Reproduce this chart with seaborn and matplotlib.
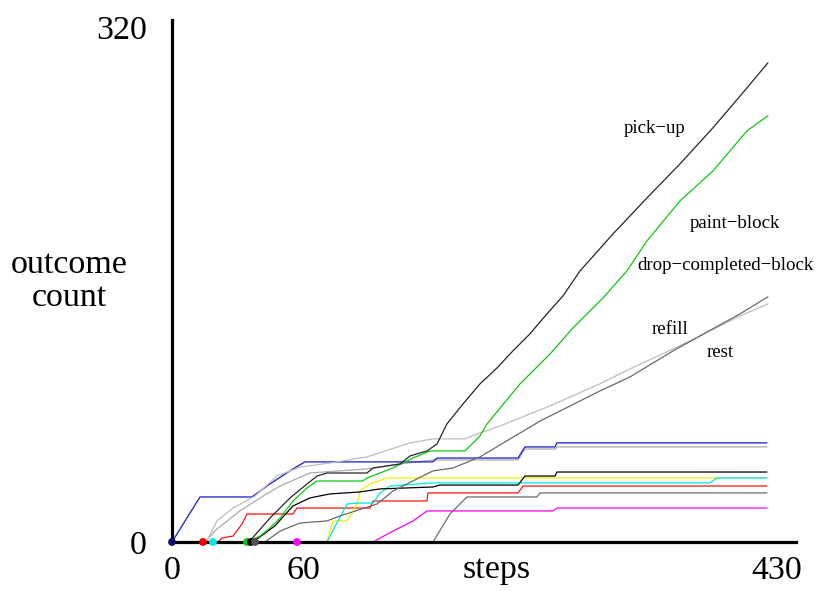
import matplotlib
matplotlib.use("Agg")
import matplotlib.pyplot as plt
import seaborn as sns
import pandas as pd

sns.set_style("white")
plt.rcParams['font.family'] = ['Liberation Serif', 'DejaVu Serif']
plt.rcParams['text.color'] = 'black'
plt.rcParams['xtick.color'] = 'black'
plt.rcParams['ytick.color'] = 'black'
plt.rcParams['axes.labelcolor'] = 'black'

# ---- data (steps, cumulative outcome count) ----
blue_x = [0, 20.2, 57.8, 70.8, 87.4, 96.1, 188.6, 191.5, 250.1, 255.1, 276.8, 278.2, 430]
blue_y = [0, 28.0, 28.0, 36.1, 45.4, 49.8, 49.8, 52.2, 52.2, 59.1, 59.1, 61.6, 61.6]

lgray_x = [23.8, 32.5, 49.1, 63.6, 78.1, 99.7, 140.9, 164.8, 188.6, 250.1, 255.1, 276.8, 278.2, 430]
lgray_y = [0, 8.1, 19.3, 27.4, 34.8, 42.9, 45.4, 48.5, 51.0, 51.0, 57.8, 57.8, 59.1, 59.1]

yellow_x = [0, 112.0, 116.4, 126.5, 133.7, 135.9, 143.1, 155.4, 430]
yellow_y = [0, 0, 13.1, 13.1, 23.6, 31.7, 36.1, 39.8, 39.8]

cyan_x = [29.6, 112.0, 126.5, 133.7, 145.3, 150.3, 157.5, 188.6, 388.8, 393.9, 430]
cyan_y = [0, 0, 23.6, 24.2, 24.2, 30.5, 34.8, 36.7, 36.7, 39.8, 39.8]

red_x = [22.4, 33.2, 36.1, 44.1, 50.6, 54.2, 87.4, 90.3, 143.1, 145.3, 184.3, 185.0, 250.1, 253.7, 430]
red_y = [0, 0, 2.5, 3.7, 11.2, 17.4, 17.4, 21.1, 21.1, 25.5, 25.5, 30.5, 30.5, 34.8, 34.8]

black2_x = [58.5, 74.4, 87.4, 99.7, 114.2, 135.9, 150.3, 188.6, 193.7, 250.1, 255.1, 276.8, 278.2, 430]
black2_y = [0, 10.0, 22.4, 27.4, 29.9, 31.1, 33.0, 34.2, 35.4, 35.4, 41.0, 41.0, 43.5, 43.5]

dgray_x = [0, 188.6, 200.9, 213.2, 263.8, 266.0, 430]
dgray_y = [0, 0, 17.4, 28.0, 28.0, 30.5, 30.5]

magenta_x = [90.3, 145.3, 159.7, 174.2, 184.3, 275.4, 278.2, 430]
magenta_y = [0, 0, 6.8, 13.1, 19.3, 19.3, 21.1, 21.1]

rest_x = [25.0, 32.5, 44.1, 60.0, 75.9, 92.5, 114.2, 140.9, 172.0, 188.6, 211.8, 222.6,
          237.0, 273.2, 309.3, 331.0, 362.1, 381.6, 410.5, 430.7]
rest_y = [0, 13.1, 21.1, 28.6, 41.0, 46.6, 49.1, 52.9, 61.6, 64.1, 64.1, 67.8,
          72.1, 84.6, 98.3, 107.6, 120.0, 128.1, 140.5, 148.0]

refill_x = [67.2, 78.1, 92.5, 112.0, 121.4, 148.2, 159.7, 188.6, 203.1, 222.6, 266.0,
            309.3, 331.0, 362.1, 381.6, 410.5, 430.7]
refill_y = [0, 6.8, 11.8, 13.1, 16.2, 23.6, 31.7, 44.2, 46.0, 52.9, 75.2,
            93.9, 102.6, 118.8, 128.1, 141.8, 152.4]

paint_x = [54.2, 63.6, 70.8, 78.1, 87.4, 97.6, 104.8, 138.0, 140.9, 159.7, 174.2, 186.5,
           211.8, 222.6, 227.7, 251.5, 273.2, 289.8, 311.5, 328.8, 343.3, 367.2, 391.0,
           415.6, 430.7]
paint_y = [0, 3.7, 8.7, 14.9, 25.5, 33.6, 37.9, 37.9, 39.8, 46.0, 52.2, 56.6,
           56.6, 65.9, 73.4, 98.3, 116.9, 133.1, 151.7, 168.5, 187.2, 212.1, 230.7,
           255.6, 264.9]

pick_x = [55.6, 70.8, 85.3, 97.6, 104.8, 112.0, 140.9, 145.3, 164.8, 172.0, 184.3, 191.5,
          198.7, 210.3, 222.6, 234.9, 246.4, 258.7, 271.0, 282.6, 294.9, 318.7, 343.3,
          367.2, 391.0, 415.6, 430.7]
pick_y = [0, 14.9, 27.4, 36.1, 41.0, 42.9, 42.9, 46.0, 48.5, 53.5, 56.6, 60.9,
          73.4, 85.8, 98.3, 108.2, 118.8, 129.4, 141.8, 153.0, 168.5, 191.5, 213.9,
          235.1, 257.5, 282.3, 297.9]

series = [
    ("lgray", lgray_x, lgray_y, "#aaaaaa"),
    ("dgray", dgray_x, dgray_y, "#6e6e6e"),
    ("magenta", magenta_x, magenta_y, "#ff00ff"),
    ("red", red_x, red_y, "#ff1010"),
    ("yellow", yellow_x, yellow_y, "#f0f000"),
    ("cyan", cyan_x, cyan_y, "#00e8e8"),
    ("black2", black2_x, black2_y, "#000000"),
    ("blue", blue_x, blue_y, "#1818c8"),
    ("rest", rest_x, rest_y, "#bdbdbd"),
    ("refill", refill_x, refill_y, "#6a6a6a"),
    ("paint", paint_x, paint_y, "#10c810"),
    ("pick", pick_x, pick_y, "#262626"),
]

start_x = [0, 22.4, 29.6, 54.2, 57.0, 60.0, 90.3]
start_c = ["#10106a", "#ff0000", "#00e8e8", "#10c810", "#000000", "#505050", "#ff00ff"]

labels = ["pick\u2212up", "paint\u2212block", "drop\u2212completed\u2212block", "refill", "rest"]
label_x = [349, 407, 400, 360, 396]
label_y = [257, 198, 172, 132, 118]

xtick_pos = [0, 95, 437]
xtick_lab = ["0", "60", "430"]
ytick_pos = [0, 320]
ytick_lab = ["0", "320"]

rows = []
for name, xs, ys, col in series:
    for x, y in zip(xs, ys):
        rows.append((name, x, y))
df = pd.DataFrame(rows, columns=["series", "steps", "count"])
palette = {name: col for name, _, _, col in series}

fig = plt.figure(figsize=(8.21, 5.91), dpi=100)
ax = fig.add_axes([172 / 821, 49 / 591, (796 - 172) / 821, (542 - 20) / 591])

sns.lineplot(data=df, x="steps", y="count", hue="series", palette=palette,
             hue_order=[s[0] for s in series], estimator=None, sort=False,
             linewidth=0.9, legend=False, ax=ax)

dots = pd.DataFrame({"steps": start_x, "count": [0] * len(start_x), "c": [str(i) for i in range(len(start_x))]})
sns.scatterplot(data=dots, x="steps", y="count", hue="c",
                palette=dict(zip(dots["c"], start_c)), s=32, linewidth=0,
                legend=False, ax=ax, clip_on=False, zorder=5)

for t, x, y in zip(labels, label_x, label_y):
    ax.text(x, y, t, fontsize=13.6, ha="center", va="center", color="black")

ax.set_xlim(0, 451)
ax.set_ylim(0, 324.5)
ax.set_xticks(xtick_pos)
ax.set_xticklabels(xtick_lab, fontsize=24.5, color="black")
ax.set_yticks(ytick_pos)
ax.set_yticklabels(ytick_lab, fontsize=24.5, color="black")
ax.tick_params(axis="x", length=0, pad=10)
ax.tick_params(axis="y", length=0, pad=18)
ax.set_xlabel("")
ax.set_ylabel("")
for s in ["top", "right"]:
    ax.spines[s].set_visible(False)
for s in ["left", "bottom"]:
    ax.spines[s].set_linewidth(2.3)
    ax.spines[s].set_color("black")

fig.text(497 / 821, 1 - 570 / 591, "steps", fontsize=24.5, ha="center", va="center", color="black")
fig.text(69 / 821, 1 - 281 / 591, "outcome\ncount", fontsize=24.5, ha="center",
         va="center", linespacing=1.1, color="black")

fig.savefig("out.png", dpi=100)
